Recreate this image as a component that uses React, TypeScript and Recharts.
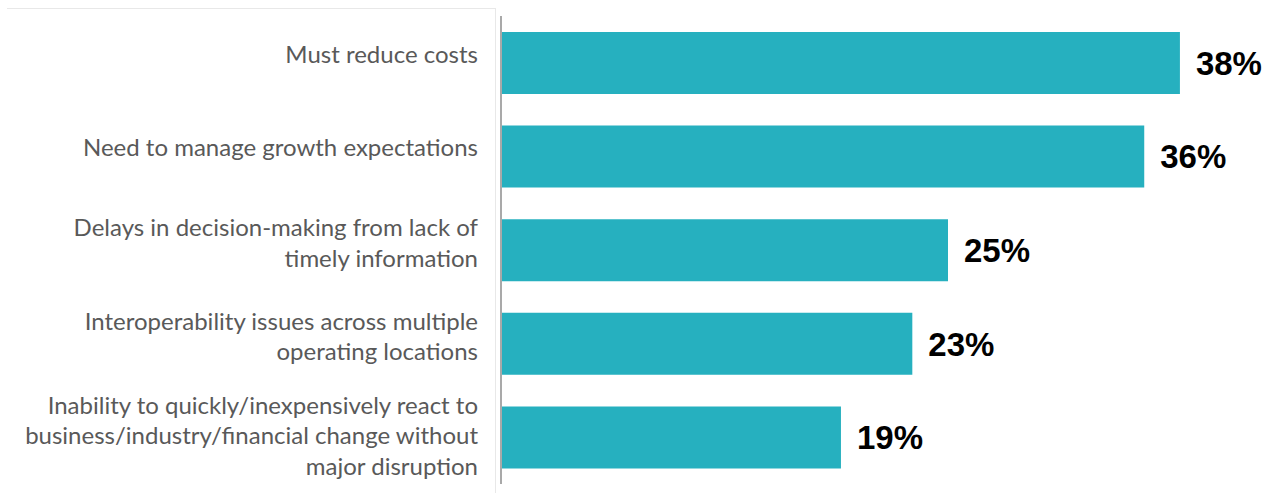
import React from "react";
import { BarChart, Bar, XAxis, YAxis, LabelList } from "recharts";

const categories = [
  "Must reduce costs",
  "Need to manage growth expectations",
  "Delays in decision-making from lack of timely information",
  "Interoperability issues across multiple operating locations",
  "Inability to quickly/inexpensively react to business/industry/financial change without major disruption",
];
const values = [38, 36, 25, 23, 19];
const tickLines = [
  ["Must reduce costs"],
  ["Need to manage growth expectations"],
  ["Delays in decision-making from lack of", "timely information"],
  ["Interoperability issues across multiple", "operating locations"],
  ["Inability to quickly/inexpensively react to", "business/industry/financial change without", "major disruption"],
];

const data = categories.map((name, i) => ({ name, value: values[i] }));

const LINE_H = 30.5;
const BLOCK_SHIFT: Record<number, number> = { 1: 0, 2: 1.5, 3: 7 };

const CategoryTick = (props: any) => {
  const { x, y, payload } = props;
  const idx = categories.indexOf(payload.value);
  const lines = tickLines[idx] || [payload.value];
  const n = lines.length;
  const first = y - ((n - 1) * LINE_H) / 2 + (BLOCK_SHIFT[n] ?? 0);
  return (
    <text
      x={x}
      y={first}
      textAnchor="end"
      fill="#595959"
      style={{ fontFamily: "Lato, 'Open Sans', sans-serif", fontSize: 24 }}
    >
      {lines.map((l: string, i: number) => (
        <tspan key={i} x={x} y={first + i * LINE_H}>
          {l}
        </tspan>
      ))}
    </text>
  );
};

export default function App() {
  return (
    <div style={{ position: "absolute", left: 0, top: 0, width: 1265, height: 493, background: "#fff" }}>
      <div
        style={{
          position: "absolute",
          left: 7,
          top: 8,
          width: 489,
          height: 485,
          borderTop: "1px solid #e8e8e8",
          borderRight: "1px solid #e8e8e8",
          boxSizing: "border-box",
        }}
      />
      <div style={{ position: "absolute", left: 0, top: 0 }}>
        <BarChart
          width={1265}
          height={493}
          data={data}
          layout="vertical"
          margin={{ top: 16, right: 49.4, bottom: 9, left: 0 }}
          barCategoryGap={31.6}
        >
          <XAxis type="number" domain={[0, 40]} hide />
          <YAxis
            type="category"
            dataKey="name"
            width={502}
            tickLine={false}
            tickSize={0}
            tickMargin={24}
            axisLine={{ stroke: "#a9a9a9", strokeWidth: 2, transform: "translate(-1,0)" }}
            tick={<CategoryTick />}
            interval={0}
          />
          <Bar dataKey="value" fill="#26B0BF" barSize={62} isAnimationActive={false}>
            <LabelList
              dataKey="value"
              position="right"
              offset={16}
              formatter={(v: any) => `${v}%`}
              fill="#000"
              style={{ fontFamily: "'Liberation Sans', Arial, sans-serif", fontSize: 33, fontWeight: 700, fill: "#000" }}
            />
          </Bar>
        </BarChart>
      </div>
    </div>
  );
}
